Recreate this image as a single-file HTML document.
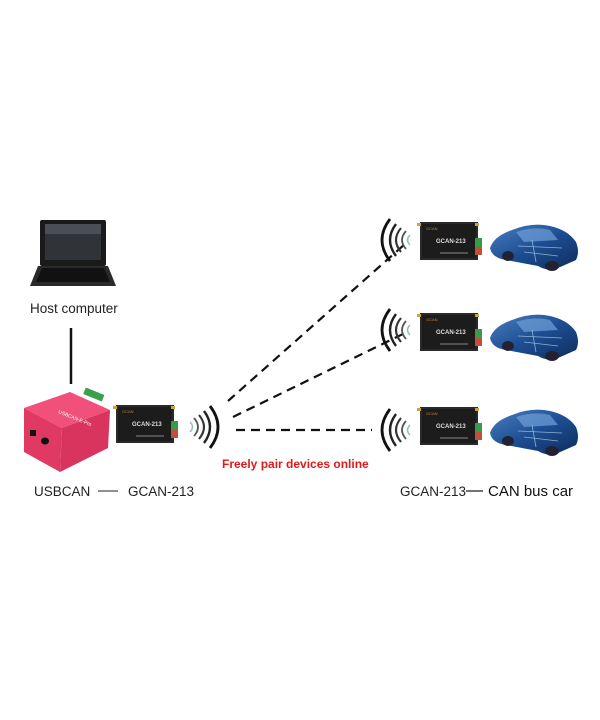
<!DOCTYPE html>
<html><head><meta charset="utf-8"><style>
html,body{margin:0;padding:0;background:#fff;}
svg{display:block}
text{font-family:"Liberation Sans",sans-serif;}
</style></head><body>
<svg width="600" height="720" viewBox="0 0 600 720" xmlns="http://www.w3.org/2000/svg">
<defs>
<linearGradient id="car" x1="0" y1="0" x2="1" y2="1">
<stop offset="0" stop-color="#4a7fc0"/><stop offset="0.5" stop-color="#1d4e93"/><stop offset="1" stop-color="#0e2c5a"/>
</linearGradient>
<g id="dev">
<rect x="0" y="0" width="58" height="38" fill="#2a2a2a"/>
<rect x="2" y="2" width="54" height="34" fill="#1c1c1c"/>
<text x="6" y="8" font-size="4" fill="#c08040">GCAN</text>
<text x="16" y="21" font-size="6" font-weight="bold" fill="#ddd">GCAN-213</text>
<line x1="20" y1="31" x2="48" y2="31" stroke="#888" stroke-width="1"/>
<rect x="55" y="16" width="7" height="9" fill="#3a9a4a"/>
<rect x="55" y="25" width="7" height="8" fill="#c0503a"/>
<rect x="-3" y="1" width="4" height="3" fill="#c9a24a"/>
<rect x="55" y="1" width="4" height="3" fill="#c9a24a"/>
</g>
<g id="wavesL">
<path d="M10 -21 Q-6 0 10 21" fill="none" stroke="#111" stroke-width="2.8"/>
<path d="M16 -16 Q4 0 16 16" fill="none" stroke="#222" stroke-width="2.4"/>
<path d="M21 -12 Q11 0 21 12" fill="none" stroke="#333" stroke-width="2.1"/>
<path d="M26 -9 Q18 0 26 9" fill="none" stroke="#555" stroke-width="1.8"/>
<path d="M30 -5 Q25 0 30 5" fill="none" stroke="#9bb" stroke-width="1.5"/>
</g>
<g id="carg">
<path d="M2 28 Q6 16 24 10 Q44 2 62 6 Q80 10 88 22 Q92 32 88 40 L70 48 Q60 52 50 46 L18 40 Q4 38 2 28 Z" fill="url(#car)"/>
<path d="M28 12 Q46 6 62 10 L70 20 L36 22 Z" fill="#6fa0d8" opacity="0.7"/>
<ellipse cx="20" cy="36" rx="6" ry="5" fill="#223"/>
<ellipse cx="64" cy="46" rx="7" ry="5" fill="#223"/>
<path d="M30 26 L74 28 M36 32 L70 36 M44 20 L48 42" stroke="#bde" stroke-width="0.8" opacity="0.7"/>
</g>
</defs>

<!-- Laptop -->
<rect x="40" y="220" width="66" height="46" rx="2" fill="#1a1a1a"/>
<rect x="45" y="224" width="56" height="36" fill="#303338"/>
<rect x="45" y="224" width="56" height="10" fill="#4a4e55"/>
<path d="M38 266 L108 266 L116 286 L30 286 Z" fill="#2a2a2a"/>
<path d="M42 268 L104 268 L110 282 L36 282 Z" fill="#111"/>
<text x="30" y="313" font-size="13.5" fill="#222">Host computer</text>
<line x1="71" y1="328" x2="71" y2="384" stroke="#111" stroke-width="2.5"/>

<!-- pink USBCAN -->
<polygon points="24,408 70,392 110,410 62,428" fill="#f0507a"/>
<polygon points="24,408 62,428 60,472 24,452" fill="#e03a64"/>
<polygon points="62,428 110,410 108,448 60,472" fill="#d8345e"/>
<rect x="84" y="391" width="20" height="7" fill="#3aa04a" transform="rotate(22 94 394)"/>
<rect x="30" y="430" width="6" height="6" fill="#111"/>
<ellipse cx="45" cy="441" rx="4" ry="3.5" fill="#111"/>
<text x="58" y="413" font-size="5" fill="#fff" transform="rotate(22 58 413)">USBCAN-E-Pro</text>

<use href="#dev" x="116" y="405"/>
<use href="#wavesL" transform="translate(220,427) scale(-1,1)"/>

<!-- dashed lines -->
<g stroke="#111" stroke-width="2.2" stroke-dasharray="9,6" fill="none">
<line x1="228" y1="401" x2="405" y2="244"/>
<line x1="233" y1="417" x2="405" y2="333"/>
<line x1="236" y1="430" x2="372" y2="430"/>
</g>

<text x="222" y="468" font-size="12" font-weight="bold" fill="#e01a1a">Freely pair devices online</text>
<text x="34" y="496" font-size="13.5" fill="#222">USBCAN</text>
<line x1="98" y1="491" x2="118" y2="491" stroke="#222" stroke-width="1"/>
<text x="128" y="496" font-size="13.5" fill="#222">GCAN-213</text>

<!-- right column -->
<use href="#wavesL" x="380" y="240"/>
<use href="#dev" x="420" y="222"/>
<use href="#carg" x="488" y="220"/>
<use href="#wavesL" x="380" y="330"/>
<use href="#dev" x="420" y="313"/>
<use href="#carg" x="488" y="310"/>
<use href="#wavesL" x="380" y="430"/>
<use href="#dev" x="420" y="407"/>
<use href="#carg" x="488" y="405"/>

<text x="400" y="496" font-size="13.5" fill="#222">GCAN-213</text>
<line x1="466" y1="491" x2="483" y2="491" stroke="#222" stroke-width="1.2"/>
<text x="488" y="496" font-size="15" fill="#111">CAN bus car</text>
</svg>
</body></html>
